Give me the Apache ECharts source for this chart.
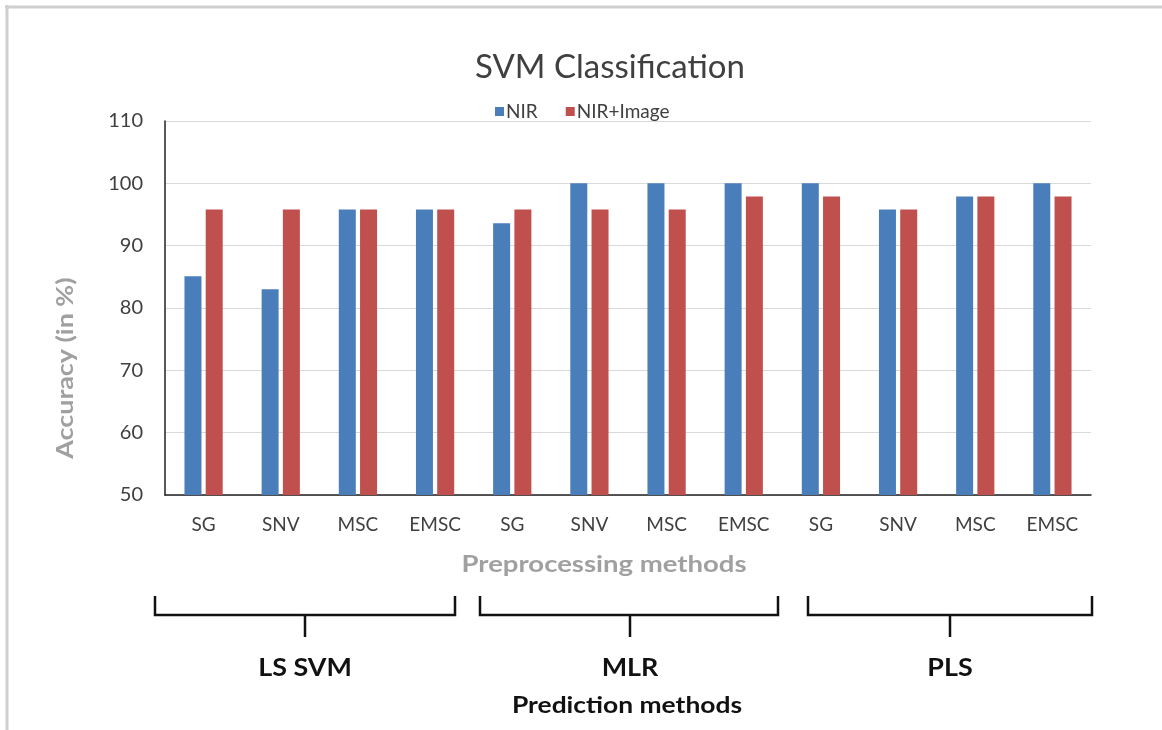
<!DOCTYPE html>
<html>
<head>
<meta charset="utf-8">
<script src="https://cdn.jsdelivr.net/npm/echarts@6/dist/echarts.min.js"></script>
<style>
html,body{margin:0;padding:0;background:#fff;}
#chart{width:1162px;height:730px;}
</style>
</head>
<body>
<div id="chart"></div>
<script>
const categories = ['SG','SNV','MSC','EMSC','SG','SNV','MSC','EMSC','SG','SNV','MSC','EMSC'];
const nirValues = [85.1, 83.0, 95.8, 95.8, 93.6, 100, 100, 100, 100, 95.8, 97.9, 100];
const nirImageValues = [95.8, 95.8, 95.8, 95.8, 95.8, 95.8, 95.8, 97.9, 97.9, 95.8, 97.9, 97.9];
const yTicks = [50, 60, 70, 80, 90, 100, 110];
const groups = [
  {name: 'LS SVM', x1: 155, x2: 455, mid: 305},
  {name: 'MLR', x1: 480, x2: 778, mid: 630},
  {name: 'PLS', x1: 808, x2: 1092, mid: 950}
];

const FONT = 'Lato, "Open Sans", sans-serif';
const chart = echarts.init(document.getElementById('chart'));

function label(text, x, y, font, color, scaleX, rotation) {
  return {type:'text', x:x, y:y, scaleX:scaleX || 1, rotation: rotation || 0,
    style:{text:text, fill:color, font:font, textAlign:'center', textVerticalAlign:'middle'}, silent:true};
}

const graphics = [];
// frame
graphics.push({type:'line', shape:{x1:5,y1:7,x2:1162,y2:7}, style:{stroke:'#cfcfcf', lineWidth:3}, silent:true});
graphics.push({type:'line', shape:{x1:7,y1:5,x2:7,y2:730}, style:{stroke:'#cfcfcf', lineWidth:3}, silent:true});
groups.forEach(g => {
  graphics.push({type:'polyline', shape:{points:[[g.x1,596],[g.x1,615],[g.x2,615],[g.x2,596]]}, style:{stroke:'#111', lineWidth:2.5, fill:null}, silent:true});
  graphics.push({type:'line', shape:{x1:g.mid,y1:615,x2:g.mid,y2:637}, style:{stroke:'#111', lineWidth:2.5}, silent:true});
  graphics.push(label(g.name, g.mid, 668, 'bold 24px ' + FONT, '#111', 1.12));
});
graphics.push(label('Preprocessing methods', 604, 565, 'bold 22px ' + FONT, '#a0a0a0', 1.25));
graphics.push(label('Prediction methods', 627, 706, 'bold 22px ' + FONT, '#111', 1.2));
graphics.push(label('Accuracy (in %)', 66, 368, 'bold 22px ' + FONT, '#a0a0a0', 1.22, Math.PI / 2));

chart.setOption({
  animation: false,
  backgroundColor: '#fff',
  title: {
    text: 'SVM Classification',
    left: 605, top: 46,
    textAlign: 'center',
    textStyle: {fontFamily: FONT, fontSize: 33, fontWeight: 'normal', color: '#404040'}
  },
  legend: {
    top: 97,
    left: 490,
    itemWidth: 9, itemHeight: 9, itemGap: 28,
    icon: 'rect',
    textStyle: {fontFamily: FONT, fontSize: 19, color: '#404040', padding: [0,0,0,-3]},
    data: ['NIR', 'NIR+Image']
  },
  grid: {left: 165, right: 71, top: 121, bottom: 235, containLabel: false},
  xAxis: {
    type: 'category',
    data: categories,
    axisLine: {lineStyle: {color: '#222', width: 1.5}},
    axisTick: {show: false},
    axisLabel: {fontFamily: FONT, fontSize: 19, color: '#404040', margin: 20, interval: 0}
  },
  yAxis: {
    type: 'value',
    min: yTicks[0], max: yTicks[yTicks.length-1], interval: 10,
    axisLine: {show: true, lineStyle: {color: '#222', width: 1.5}},
    axisTick: {show: false},
    axisLabel: {fontFamily: FONT, fontSize: 20, color: '#404040', margin: 22},
    splitLine: {lineStyle: {color: '#d9d9d9', width: 1}}
  },
  series: [
    {name: 'NIR', type: 'bar', data: nirValues, barWidth: 17, barGap: '25%', itemStyle: {color: '#4a7ebb'}},
    {name: 'NIR+Image', type: 'bar', data: nirImageValues, barWidth: 17, barGap: '25%', itemStyle: {color: '#c0504d'}}
  ],
  graphic: graphics
});
</script>
</body>
</html>
